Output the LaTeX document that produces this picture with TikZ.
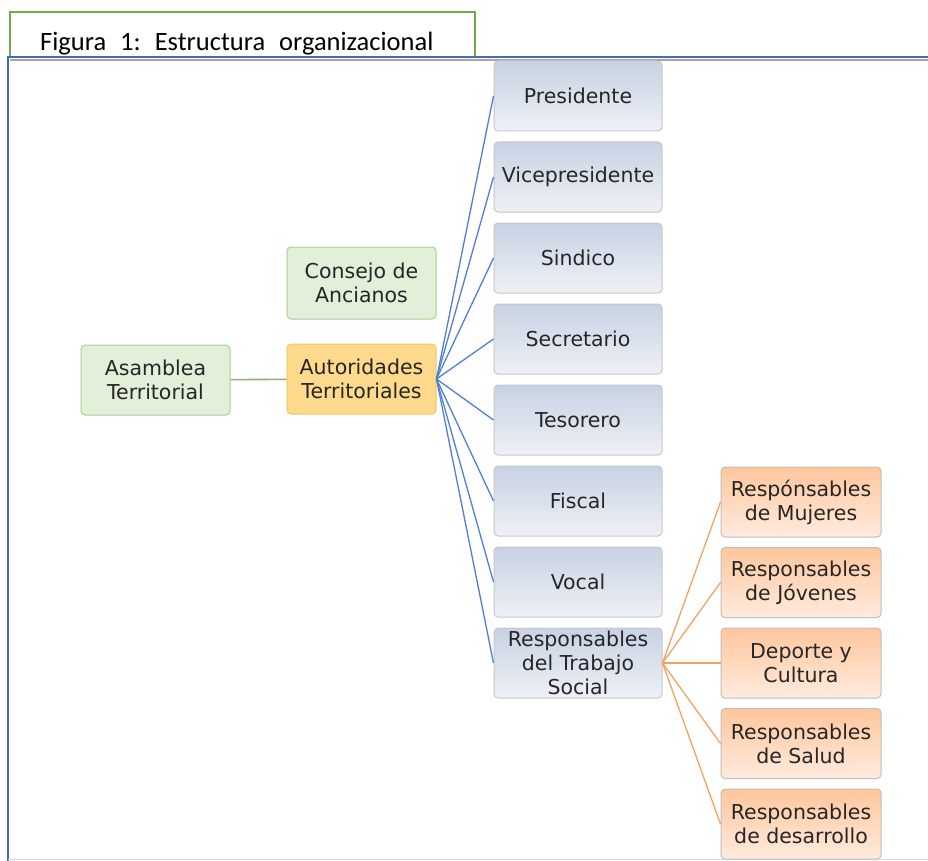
\documentclass[tikz,border=0pt]{standalone}
\usepackage{fontspec}
\setmainfont{DejaVu Sans}
\newfontfamily\capfont{Carlito}
\usetikzlibrary{positioning}
\definecolor{azulA}{HTML}{C8D2E3}
\definecolor{azulB}{HTML}{EEF1F6}
\definecolor{naranjaA}{HTML}{FFC69C}
\definecolor{naranjaB}{HTML}{FFEBDE}
\definecolor{verdeF}{HTML}{E2EFD9}
\definecolor{verdeB}{HTML}{A9D18E}
\definecolor{oroF}{HTML}{FFD98C}
\definecolor{oroB}{HTML}{F7C55E}
\definecolor{lineaAzul}{HTML}{4F7FD4}
\definecolor{lineaNaranja}{HTML}{F4A261}
\definecolor{titulo}{HTML}{70AD47}

\begin{document}
\begin{tikzpicture}[x=1pt,y=-1pt,
  caja/.style={rounded corners=4pt, minimum height=70pt, align=center, inner sep=1pt,
    font=\fontsize{20.5}{24}\selectfont, text=black!85, line width=1pt},
  azul/.style={caja, draw=black!22, top color=azulA, bottom color=azulB, minimum width=168pt},
  naranja/.style={caja, draw=black!25, top color=naranjaA, bottom color=naranjaB, minimum width=160pt},
  verde/.style={caja, draw=verdeB, fill=verdeF, minimum width=149pt},
  oro/.style={caja, draw=oroB, fill=oroF, minimum width=149pt}]
  \useasboundingbox (0,0) rectangle (928,861);

  % marco y titulo
  \draw[titulo, line width=1.5pt] (10,57) |- (475,12) -- (475,57);
  \node[anchor=base west, inner sep=0pt, font=\capfont\fontsize{26.5}{30}\selectfont] (tit) at (40,51)
    {Figura\hspace{14pt}1:\hspace{14pt}Estructura\hspace{14pt}organizacional};
  \draw[black!35, line width=1.8pt] (10,60) -- (928,60);
  \draw[lineaAzul!85!black, line width=1.3pt] (8,861) |- (928,57);
  \draw[black!15, line width=1pt] (8,859) -- (928,859);

  % primer nivel
  \node[verde] (asam) at (155.5,380) {Asamblea\\Territorial};
  \node[verde, minimum height=72pt] (cons) at (361.5,283) {Consejo de\\Ancianos};
  \node[oro] (aut) at (361.5,379) {Autoridades\\Territoriales};
  \draw[verdeB!85!black, line width=1.6pt] (asam) -- (aut);

  % autoridades
  \foreach \txt [count=\i] in {Presidente, Vicepresidente, Sindico, Secretario, Tesorero,
      Fiscal, Vocal, {Responsables\\del Trabajo\\Social}} {
    \node[azul] (a\i) at (578,{96+81*(\i-1)}) {\txt};
    \draw[lineaAzul, line width=1.3pt] (aut.east) -- (a\i.west);
  }

  % responsables
  \foreach \txt [count=\i] in {{Respónsables\\de Mujeres}, {Responsables\\de Jóvenes},
      {Deporte y\\Cultura}, {Responsables\\de Salud}, {Responsables\\de desarrollo}} {
    \node[naranja] (r\i) at (801,{502+80.5*(\i-1)}) {\txt};
    \draw[lineaNaranja, line width=1.3pt] (a8.east) -- (r\i.west);
  }
\end{tikzpicture}
\end{document}
